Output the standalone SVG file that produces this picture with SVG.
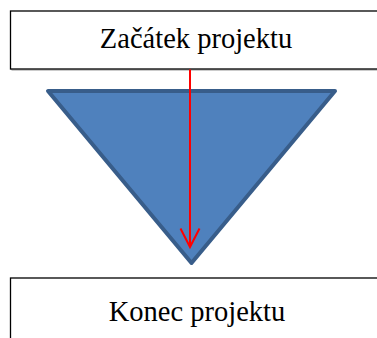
<svg xmlns="http://www.w3.org/2000/svg" width="377" height="338" viewBox="0 0 377 338">
<defs>
<style>
.box{fill:#fff;stroke:#000;stroke-width:1.3}
.shadow{fill:none;stroke:#bbb;stroke-width:1.3}
.lbl{font-family:"Liberation Serif","Times New Roman",serif;font-size:28.5px;fill:#000;text-anchor:middle}
.tri{fill:#4f81bd;stroke:#385d8a;stroke-width:4;stroke-linejoin:round}
.arrow{fill:none;stroke:#ff0000;stroke-width:2}
</style>
</defs>
<g id="triangle">
<polygon class="tri" points="48,91 335,91 191.5,263"/>
</g>
<g id="start">
<path class="shadow" d="M11.5,70 L11.5,12.5 M11.5,70 L377,70"/>
<rect class="box" x="10.5" y="11" width="380" height="58"/>
<text class="lbl" x="196" y="48">Začátek projektu</text>
</g>
<g id="end">
<rect class="box" x="10.5" y="278" width="380" height="80"/>
<text class="lbl" x="197" y="321">Konec projektu</text>
</g>
<g id="connectors">
<line class="arrow" x1="190" y1="69.5" x2="190" y2="247"/>
<path class="arrow" d="M180.5,228.5 L190,247 L199.5,228.5"/>
</g>
</svg>
